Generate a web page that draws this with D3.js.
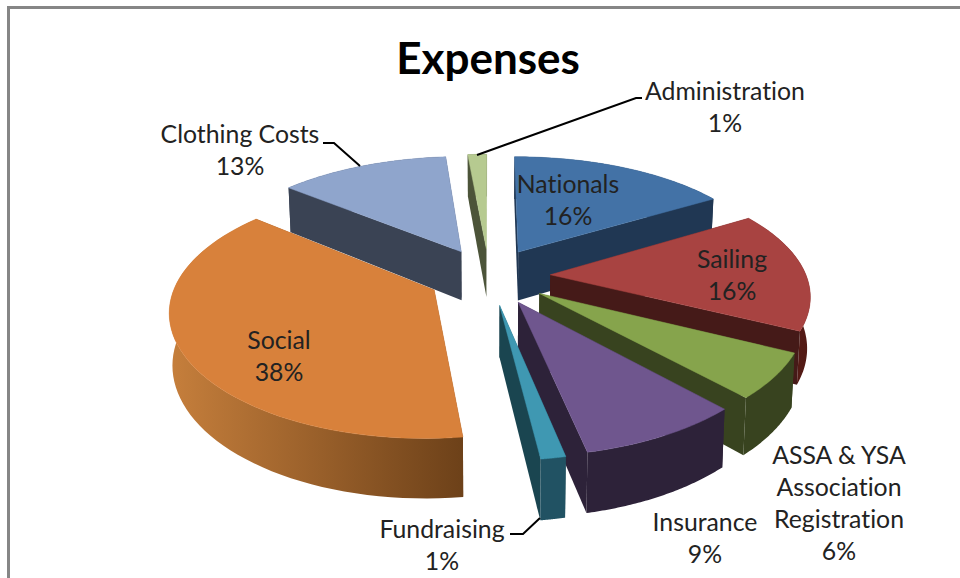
<!DOCTYPE html>
<html>
<head>
<meta charset="utf-8">
<script src="https://cdn.jsdelivr.net/npm/d3@7"></script>
<style>
  html, body { margin: 0; padding: 0; background: #fff; }
  svg { display: block; }
  text { font-family: Lato, "Open Sans", sans-serif; fill: #222; text-anchor: middle; font-variant-ligatures: none; }
</style>
</head>
<body>
<script>
// Chart values (labels show them rounded)
const categories = ["Nationals", "Sailing", "ASSA & YSA Association Registration", "Insurance",
    "Fundraising", "Social", "Clothing Costs", "Administration"];
const percents = [16.3, 16, 5.8, 8.6, 1.3, 38, 12.6, 1.4];

// Colours per slice: top face, flat side, outer wall (left end, right end)
const topColors = ["#4372a6", "#a84341", "#86a44c", "#6f568e", "#3f98b2", "#d8813b", "#8fa5cc", "#b6ca90"];
const sideColors = ["#203753", "#451a18", "#38431f", "#2d2239", "#1a4550", "#6d4119", "#3a4354", "#4c5439"];
const wallLeft = ["#203753", "#5c1c16", "#38431f", "#2d2239", "#215263", "#c67f3c", "#3a4354", "#4c5439"];
const wallRight = ["#203753", "#521a15", "#38431f", "#2d2239", "#215263", "#6d4119", "#3a4354", "#4c5439"];

const width = 960, height = 578;

// Fake 3D: ground plane with a simple perspective
const cx = 489, cy = 276;
const scaleX = 256, scaleY = 118.5, focalX = 6.7, focalY = 6;
const explode = 0.24, depth = 50;

function project(px, py, down) {
    const sx = focalX / (focalX - py);
    const sy = focalY / (focalY - py);
    const shrink = down ? 0.99 : 1;
    return [cx + scaleX * px * sx * shrink, cy + scaleY * py * sy + (down ? depth * sx : 0)];
}

const svg = d3.select("body").append("svg")
    .attr("width", width)
    .attr("height", height);

const defs = svg.append("defs");

// Chart frame
svg.append("path")
    .attr("d", `M8.5,${height} V7.5 H${width}`)
    .attr("fill", "none")
    .attr("stroke", "#868686")
    .attr("stroke-width", 3);

const pie = d3.pie().sort(null).value(d => d);
const arcs = pie(percents);
const line = d3.line();

// Back slices first, the social slice last
const drawOrder = [0, 6, 7, 1, 2, 3, 4, 5];

drawOrder.forEach(i => {
    const a = arcs[i];
    const mid = (a.startAngle + a.endAngle) / 2;
    const ox = explode * Math.sin(mid), oy = -explode * Math.cos(mid);
    const g = svg.append("g").attr("class", "slice");

    const steps = d3.range(0, 61).map(k => a.startAngle + (a.endAngle - a.startAngle) * k / 60);
    const rim = steps.map(t => [ox + Math.sin(t), oy - Math.cos(t)]);
    const rimTop = rim.map(p => project(p[0], p[1], false));
    const rimBottom = rim.map(p => project(p[0], p[1], true));

    // outer wall, shaded left to right
    const gradId = "wall" + i;
    const wallX = d3.extent(rimTop, p => p[0]);
    const grad = defs.append("linearGradient")
        .attr("id", gradId)
        .attr("gradientUnits", "userSpaceOnUse")
        .attr("x1", wallX[0]).attr("x2", wallX[1])
        .attr("y1", 0).attr("y2", 0);
    grad.append("stop").attr("offset", 0).attr("stop-color", wallLeft[i]);
    grad.append("stop").attr("offset", 1).attr("stop-color", wallRight[i]);

    const drawWall = () => g.append("path")
        .attr("d", line(rimTop.concat(rimBottom.slice().reverse())) + "Z")
        .attr("fill", `url(#${gradId})`);

    // flat sides going in to the apex
    const drawSides = () => {
        [rim[0], rim[60]]
            .sort((p, q) => p[1] - q[1])
            .forEach(p => {
                g.append("path")
                    .attr("d", line([project(ox, oy, false), project(p[0], p[1], false),
                        project(p[0], p[1], true), project(ox, oy, true)]) + "Z")
                    .attr("fill", sideColors[i]);
            });
    };

    // a wall at the back sits behind the flat sides, one at the front covers them
    if (Math.cos(mid) > 0) {
        drawWall();
        drawSides();
    } else {
        drawSides();
        drawWall();
    }

    // top face
    g.append("path")
        .attr("d", line([project(ox, oy, false)].concat(rimTop)) + "Z")
        .attr("fill", topColors[i])
        .attr("stroke", topColors[i])
        .attr("stroke-width", 0.5);
});

// Leader lines
const leaders = [
    [[477, 155], [636, 98], [642, 98]],
    [[323, 143], [334, 143], [360, 166]],
    [[510, 534], [523, 534], [540, 518]]
];
svg.selectAll(".leader")
    .data(leaders)
    .enter().append("path")
    .attr("class", "leader")
    .attr("d", d => line(d))
    .attr("fill", "none")
    .attr("stroke", "#000")
    .attr("stroke-width", 2);

// Title
svg.append("text")
    .attr("x", 488)
    .attr("y", 74)
    .attr("font-size", 44)
    .attr("font-weight", "bold")
    .style("fill", "#000")
    .text("Expenses");

// Label anchor and the lines each label wraps to
const labelAnchors = [[568, 193], [732, 268], [839, 464], [705, 531], [442, 538], [279, 349], [240, 143], [725, 100]];
const labelLines = [["Nationals"], ["Sailing"], ["ASSA & YSA", "Association", "Registration"], ["Insurance"],
    ["Fundraising"], ["Social"], ["Clothing Costs"], ["Administration"]];

categories.forEach((c, i) => {
    const [lx, ly] = labelAnchors[i];
    labelLines[i].concat([Math.round(percents[i]) + "%"]).forEach((t, k) => {
        svg.append("text")
            .attr("x", lx)
            .attr("y", ly + k * 32)
            .attr("font-size", 24.8)
            .text(t);
    });
});
</script>
</body>
</html>
